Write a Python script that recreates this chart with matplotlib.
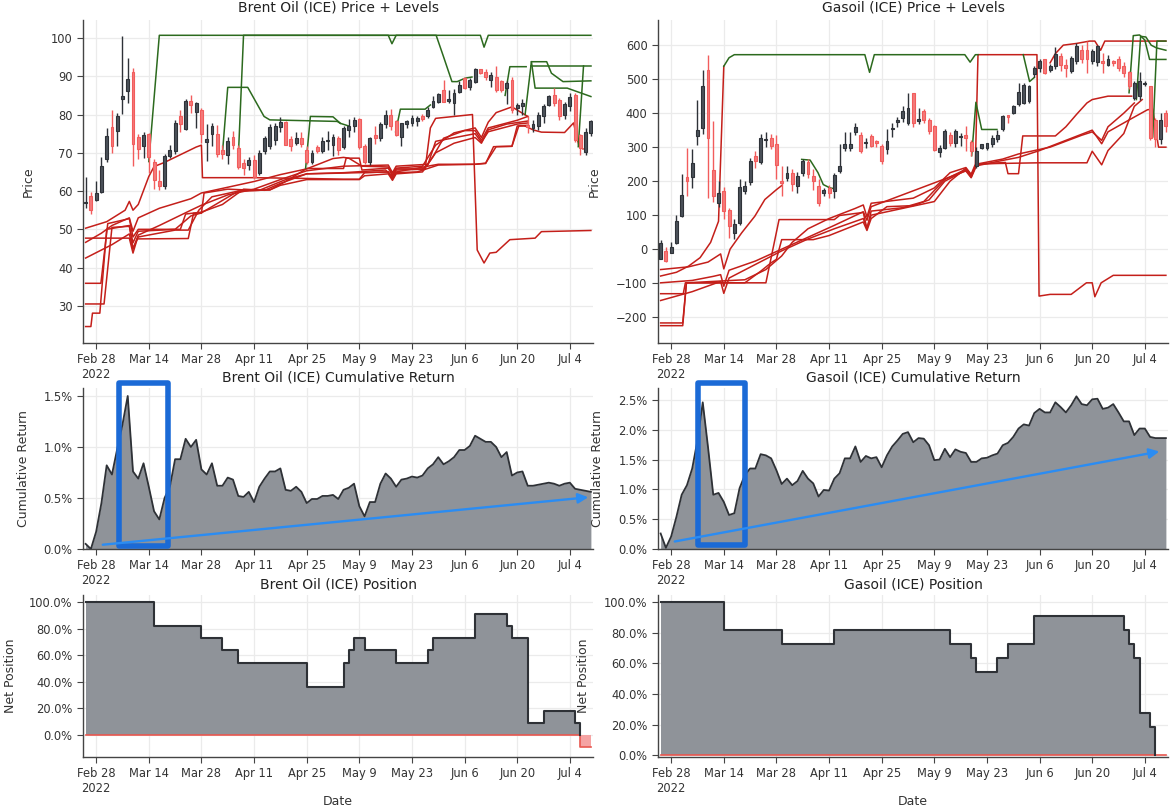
import numpy as np
import pandas as pd
import matplotlib
matplotlib.use("Agg")
import matplotlib.pyplot as plt
from matplotlib.patches import Rectangle, FancyArrowPatch
from matplotlib.ticker import PercentFormatter, FixedLocator

# ---------------------------------------------------------------------------
# Data
# ---------------------------------------------------------------------------
dates = pd.bdate_range("2022-02-24", "2022-07-08")
tick_dates = ["2022-02-28", "2022-03-14", "2022-03-28", "2022-04-11", "2022-04-25",
              "2022-05-09", "2022-05-23", "2022-06-06", "2022-06-20", "2022-07-04"]
tick_labels = ["Feb 28\n2022", "Mar 14", "Mar 28", "Apr 11", "Apr 25",
               "May 9", "May 23", "Jun 6", "Jun 20", "Jul 4"]

brent_open = [56.8, 58.7, 57.6, 59.8, 68.5, 76.8, 75.6, 84.1, 86.1, 91.2, 74.2, 71.8, 75.0, 67.6, 62.7, 61.4,
              69.2, 70.5, 79.6, 76.3, 83.5, 80.7, 81.3, 72.9, 75.0, 75.0, 70.8, 69.4, 74.2, 71.3, 67.3, 66.9,
              68.0, 64.7, 70.5, 71.7, 73.3, 76.8, 78.1, 73.5, 72.5, 73.8, 70.8, 67.6, 71.5, 70.5, 73.1, 72.0,
              73.8, 71.6, 76.0, 77.0, 78.8, 71.8, 67.7, 74.7, 73.8, 77.5, 79.9, 78.2, 74.2, 77.5, 77.7, 78.2,
              79.6, 79.5, 81.9, 83.4, 86.4, 83.6, 83.0, 86.0, 89.5, 87.3, 88.6, 91.8, 91.2, 89.0, 89.9, 88.8,
              86.9, 88.9, 81.6, 82.2, 77.3, 76.6, 76.9, 79.5, 82.5, 85.1, 83.8, 79.9, 82.1, 85.1, 74.7, 70.3, 75.1]
brent_high = [63.7, 59.7, 62.5, 69.0, 76.5, 81.3, 80.3, 100.6, 94.7, 92.2, 75.0, 75.4, 75.2, 68.5, 65.5, 69.8,
              72.1, 78.5, 81.2, 84.0, 85.0, 83.3, 81.8, 77.5, 77.9, 77.3, 72.0, 74.0, 75.6, 72.0, 68.4, 68.8,
              69.3, 70.7, 74.5, 77.5, 77.8, 79.4, 78.3, 74.5, 75.4, 75.5, 71.7, 70.7, 72.0, 74.0, 75.7, 75.0,
              74.5, 76.9, 78.8, 79.4, 79.0, 72.3, 74.2, 76.9, 78.0, 81.2, 81.4, 78.6, 77.8, 78.6, 79.8, 79.7,
              80.1, 82.0, 84.8, 85.6, 88.9, 86.4, 86.6, 88.7, 89.8, 89.5, 92.1, 92.0, 92.0, 91.0, 92.6, 89.0,
              88.8, 89.8, 82.9, 84.0, 79.5, 78.5, 80.6, 82.8, 85.1, 87.0, 84.3, 83.3, 85.5, 85.5, 75.0, 76.5, 78.5]
brent_low = [55.6, 54.1, 57.3, 59.4, 67.5, 70.0, 71.8, 80.1, 82.9, 66.5, 68.5, 68.6, 64.7, 60.6, 60.3, 60.5,
             68.6, 69.8, 75.5, 76.0, 80.5, 76.5, 72.5, 67.9, 71.7, 69.0, 68.5, 67.2, 71.0, 65.8, 64.2, 65.6,
             63.2, 64.3, 69.7, 71.0, 72.1, 75.5, 72.0, 70.6, 72.0, 71.5, 67.0, 67.0, 70.0, 70.0, 70.7, 69.2,
             69.5, 71.0, 74.0, 75.5, 71.0, 67.0, 66.8, 72.2, 73.0, 76.6, 76.0, 74.5, 71.9, 76.5, 76.9, 77.0,
             78.2, 79.0, 81.7, 83.0, 83.3, 83.0, 79.8, 85.5, 86.6, 86.5, 88.3, 90.5, 89.0, 87.3, 86.0, 85.9,
             82.7, 80.4, 80.0, 80.0, 75.1, 75.5, 76.0, 77.8, 82.2, 82.2, 78.7, 78.9, 80.9, 72.8, 69.5, 69.5, 74.5]
brent_close = [57.2, 55.1, 59.5, 66.5, 74.3, 71.7, 79.6, 84.8, 89.4, 72.4, 70.9, 74.6, 68.9, 62.9, 61.2, 69.2,
               70.7, 77.7, 77.5, 83.5, 82.5, 82.9, 75.0, 73.5, 77.0, 69.8, 69.8, 73.1, 72.0, 66.4, 66.1, 68.2,
               63.7, 70.0, 73.8, 76.8, 77.0, 78.1, 72.0, 71.7, 73.8, 72.3, 67.6, 70.0, 70.5, 73.0, 73.4, 74.0,
               70.8, 76.4, 76.9, 78.6, 71.6, 67.7, 73.8, 73.8, 77.5, 80.0, 77.0, 74.7, 77.7, 78.2, 79.0, 79.0,
               78.8, 81.2, 83.5, 85.4, 83.4, 84.1, 85.7, 87.7, 86.9, 88.9, 91.8, 90.9, 89.9, 90.3, 86.4, 86.4,
               88.2, 81.2, 82.5, 82.9, 76.8, 77.5, 79.9, 82.1, 84.9, 82.9, 79.5, 82.7, 84.7, 73.4, 71.2, 75.5, 78.2]

gasoil_open = [-28, -6, -11, 17, 99, 213, 213, 332, 357, 528, 232, 136, 171, 115, 48, 77,
               171, 197, 273, 256, 320, 327, 308, 200, 210, 223, 185, 223, 256, 215, 187, 164,
               180, 171, 229, 298, 298, 344, 337, 312, 334, 318, 303, 295, 352, 373, 386, 372,
               458, 378, 406, 381, 362, 285, 298, 337, 313, 330, 337, 315, 244, 298, 298, 308,
               323, 352, 395, 401, 426, 430, 435, 514, 533, 558, 528, 538, 568, 543, 524, 553,
               587, 585, 553, 550, 552, 543, 552, 560, 540, 521, 445, 450, 487, 479, 381, 323, 401]
gasoil_high = [27, 5, 22, 101, 221, 297, 295, 440, 527, 570, 377, 200, 183, 122, 88, 205,
               200, 267, 290, 340, 345, 340, 335, 245, 245, 235, 228, 265, 265, 235, 205, 180,
               190, 225, 310, 345, 345, 370, 345, 327, 340, 320, 310, 353, 370, 388, 421, 460,
               460, 416, 412, 385, 365, 305, 352, 345, 352, 342, 362, 320, 300, 310, 313, 335,
               350, 395, 396, 425, 490, 488, 483, 540, 560, 560, 545, 595, 578, 560, 568, 605,
               600, 612, 590, 600, 577, 570, 555, 568, 550, 525, 495, 520, 495, 480, 385, 400, 410]
gasoil_low = [-30, -38, -12, 14, 96, 155, 180, 307, 340, 150, 140, 123, 90, 33, 30, 70,
              163, 190, 240, 250, 300, 295, 205, 155, 200, 170, 165, 215, 210, 175, 128, 155,
              150, 150, 225, 290, 290, 335, 283, 298, 300, 300, 250, 280, 330, 360, 375, 365,
              360, 367, 370, 340, 290, 270, 294, 303, 300, 303, 290, 275, 240, 295, 292, 300,
              315, 348, 371, 398, 420, 428, 430, 505, 520, 515, 520, 530, 523, 505, 518, 545,
              548, 518, 545, 540, 519, 540, 540, 525, 505, 470, 440, 440, 480, 320, 300, 310, 345]
gasoil_close = [18, -35, 6, 82, 158, 200, 252, 350, 479, 327, 156, 164, 112, 68, 75, 183,
                185, 259, 259, 327, 325, 303, 249, 196, 224, 193, 215, 259, 220, 200, 136, 173,
                166, 217, 244, 308, 308, 360, 288, 316, 303, 313, 259, 318, 356, 381, 406, 414,
                370, 383, 381, 347, 293, 298, 347, 313, 347, 334, 327, 288, 288, 308, 311, 327,
                337, 391, 390, 421, 462, 484, 479, 533, 553, 519, 538, 573, 543, 533, 563, 597,
                560, 558, 582, 597, 548, 558, 548, 533, 519, 480, 489, 494, 490, 327, 323, 381, 362]

# level lines as (business days after Feb 28, price) vertices
brent_red_levels = [
    [(-2, 50.3), (2, 52), (5.5, 55), (6.3, 57.3), (7, 55), (8, 56.5), (10, 63.8), (11, 66.4), (13, 67.5),
     (16, 69.5), (19, 71.5), (20, 72), (20.2, 63.5), (30, 63.5), (40, 63.3), (47, 63.1), (50, 63.1),
     (51, 64.8), (55.5, 65), (56.3, 63.2), (57, 64.8), (61, 65), (65, 66.8), (72, 67), (74, 67.3),
     (76, 71.6), (79, 71.7), (80, 77), (82, 77.2)],
    [(-2, 47.7), (6.3, 47.7), (7, 43.8), (7.8, 47.5), (17.5, 47.6), (18.5, 54.2), (20, 54.2), (20.5, 59.5),
     (25, 60.5), (30, 60.2), (33, 60.3), (36, 62.5), (40, 65.9), (47, 65.9), (47.5, 68.6), (50, 68.6),
     (50.5, 65.5), (55.5, 66), (56.3, 64), (57, 65.8), (62, 65.8), (63, 66.8), (64.5, 73), (69, 74.2),
     (72, 75), (73.2, 72.8), (74.5, 75.5), (80, 77.5), (82, 77.8)],
    [(-2, 46.6), (1, 49), (3, 51), (6.3, 53), (7, 49.5), (8, 53), (12, 55.5), (18, 58), (20, 59.5),
     (25, 61), (30, 62.5), (35, 64.3), (40, 65.8), (45, 68.5), (47, 68.8), (48, 68.6), (50.5, 66.5),
     (55.5, 66.3), (56.3, 64.2), (57, 66), (62, 66.5), (64.5, 72), (68, 75.2), (72, 76.5), (73.2, 74),
     (74.5, 78), (76, 80.5), (79, 82), (82, 79.5)],
    [(-2, 42.5), (3, 46), (6.3, 48.8), (7, 44.8), (8, 48.5), (12, 51), (18, 55), (20, 56.3), (25, 59),
     (30, 60.5), (35, 63), (40, 65.3), (47, 66.5), (55.5, 66.8), (56.3, 64.8), (57, 66.5), (63, 67),
     (64.5, 70), (68, 72.5), (72, 74), (73.2, 72.5), (74.5, 76), (78, 77.5), (82, 78.3)],
    [(-2, 35.9), (0.9, 35.9), (2.2, 51.5), (6.3, 52.8), (7, 48), (8, 50), (16, 50), (17, 54), (20, 54.5),
     (24, 56.5), (28, 60.5), (32, 60.2), (35, 62), (40, 64.5), (47, 64.7), (55.5, 65), (56.3, 63.3),
     (57, 65), (63, 66.5), (65, 67), (72, 67), (74, 67.2), (75.5, 71.6), (79, 71.7), (80.3, 77), (82, 77)],
    [(-2, 30.5), (1.5, 30.5), (3, 50.5), (6.3, 50.8), (7, 46.5), (8, 49.5), (15, 50), (18, 53.5),
     (20, 54.3), (27, 60), (33, 60.3), (35, 61.5), (40, 63), (47, 63), (50, 63), (51, 64), (55.5, 64.5),
     (56.3, 62.8), (57, 64.5), (62, 65), (64, 69), (66, 73.8), (70, 75.8), (72, 75.8), (73.2, 73.3),
     (74.5, 76.5), (80, 78.5), (82, 79.5)],
    [(-2, 24.6), (-1, 24.6), (-0.7, 28.1), (0.7, 28.1), (2, 50), (6.3, 51), (7, 45), (8, 48), (15, 49.8),
     (17.5, 49.8), (19.5, 55), (22, 58.5), (27, 60), (31, 60.2), (36, 63), (40, 64.5), (47, 64.8),
     (55, 65.5), (56.3, 63.8), (57, 65.5), (62.5, 65.7), (63.5, 76.5), (64.5, 79), (71.5, 80),
     (72.4, 44.6), (73.7, 41.2), (74.8, 43.8), (76, 44), (78.6, 47.3), (83.4, 47.7), (84.6, 49.4),
     (94, 49.7)],
    [(81.5, 77), (83, 76), (84.6, 75.4), (89, 75.3), (90.7, 77.8), (91.7, 72), (92.5, 71)],
]
brent_green_levels = [
    [(10, 67.7), (12, 100.7), (55.5, 100.7), (56.2, 98.5), (57, 100.7), (73, 100.7), (73.7, 97.6),
     (74.5, 100.7), (94, 100.7)],
    [(27, 68.5), (28, 100.7), (64.6, 100.7), (66, 95.1), (67.6, 88.6), (68.6, 88.6), (70.1, 89.5),
     (71.4, 89.8)],
    [(24, 70), (25, 87.1), (28.8, 87.1), (31.9, 79.5), (33, 78.6), (45.8, 78.2), (46.4, 77.7), (48, 77)],
    [(39.8, 66), (40.7, 79.5), (45, 79.4), (46.4, 77.7)],
    [(56.9, 75.5), (57.8, 81.4), (62.5, 81.4), (63.5, 82.5)],
    [(77.7, 85), (78.6, 92.5), (81.7, 92.5)],
    [(81.5, 80), (82.7, 93.8), (85.6, 93.8), (86.5, 90.8), (88.7, 88.6), (94, 88.8)],
    [(82.7, 93.8), (83.4, 86.9), (89.5, 86.9), (94, 84.7)],
    [(82.7, 92.7), (94, 92.7)],
    [(91.6, 71.6), (92.6, 92.7)],
]

gasoil_red_levels = [
    [(-2, -60), (3.3, -52), (7, -38), (9.4, -14), (10, -58), (11.2, 0), (13.4, 48), (15.9, 97),
     (17.8, 146), (20, 175), (21, 187)],
    [(-2, -79), (1, -68), (3.3, -50), (5.5, -25), (7.5, 20), (9, 82), (10, 538)],
    [(-2, -99), (4, -92), (8, -80), (9.4, -75), (10, -109), (11, -62), (16, -35), (21, 0), (26, 35),
     (31, 70), (36.5, 110), (37.2, 85), (38, 125), (44, 160), (50, 195), (56, 230), (57, 210),
     (58, 245), (62, 258), (66, 270), (70, 290), (75, 320), (80, 350), (81.8, 310), (83, 345),
     (87, 380), (90.5, 410), (91.5, 412), (92.6, 300), (94, 300)],
    [(-2, -131), (2.3, -131), (2.7, -99), (18, -99), (20.5, 87), (31, 87), (32, 99), (36.5, 108),
     (37.2, 60), (38, 112), (44, 122), (48, 140), (52, 205), (56, 235), (57, 215), (58, 250), (62, 252),
     (70, 254), (79, 254), (80, 288), (81.8, 248), (83, 290), (86, 340), (88, 420), (89.5, 440)],
    [(-2, -151), (4, -125), (9.4, -95), (10, -130), (11, -85), (16, -45), (21, -5), (26, 30), (31, 60),
     (36.5, 90), (37.2, 62), (38, 100), (44, 120), (50, 140), (53, 200), (56, 238), (57, 218), (58, 250),
     (63, 265), (66, 280), (72, 300), (78, 335), (80, 345), (81.8, 320), (83, 360), (86, 400), (88, 430)],
    [(-2, -217), (2.2, -217), (2.9, -99), (14, -99), (17, -65), (19, -40), (20, -30), (21, 28), (27, 28),
     (30, 40), (36.5, 80), (37.2, 55), (38, 90), (41, 125), (46, 128), (49, 145), (52, 200), (56, 232),
     (57, 212), (58, 250), (63.5, 255), (64, 222), (66, 222), (66.8, 333), (73, 333), (75, 360),
     (77, 396), (79, 430), (80, 440), (83, 450), (87.5, 450)],
    [(-2, -225), (2.2, -225), (2.9, -99), (14, -90), (18, -60), (21, -20), (23, 20), (26, 60), (30, 90),
     (35, 120), (36.5, 130), (37.2, 95), (38, 135), (46, 150), (50, 180), (53, 225), (56, 240),
     (57, 220), (57.8, 250), (58.3, 572), (69.5, 572), (69.9, -138), (72, -133), (76, -133),
     (78.9, -99), (80, -99), (80.5, -140), (81.7, -99), (84, -77), (94, -77)],
    [(72, 548), (73, 575), (74.5, 600), (77, 605), (79.5, 612), (80.5, 612), (81.6, 585), (82.4, 612),
     (94, 612)],
]
gasoil_green_levels = [
    [(10, 538), (11, 563), (12, 572), (36.8, 572), (37.7, 520), (38.6, 572), (55.8, 572), (56.8, 550),
     (57.8, 572), (58.3, 572)],
    [(24.8, 264), (26.4, 262), (27.9, 225), (28.9, 190), (30.2, 180), (31, 178)],
    [(57.1, 275), (57.9, 432), (59, 352), (61.9, 352)],
    [(66.9, 572), (68.1, 493), (69, 505)],
    [(87, 460), (87.8, 628), (89, 630), (90, 615), (90.9, 558), (94, 558)],
    [(88.4, 440), (89.2, 626), (90.2, 624), (91.2, 600), (92.2, 592), (94, 585)],
    [(91.5, 330), (92.3, 612), (94, 612)],
]

# cumulative return, percent
brent_cumret = [0.05, 0.00, 0.17, 0.45, 0.82, 0.73, 0.98, 1.22, 1.50, 0.76, 0.69, 0.84, 0.61, 0.37, 0.29, 0.50,
                0.61, 0.88, 0.88, 1.08, 1.00, 1.07, 0.78, 0.73, 0.84, 0.62, 0.62, 0.70, 0.68, 0.52, 0.51, 0.56,
                0.46, 0.61, 0.69, 0.76, 0.76, 0.79, 0.58, 0.57, 0.61, 0.56, 0.45, 0.49, 0.49, 0.52, 0.52, 0.53,
                0.49, 0.58, 0.60, 0.64, 0.42, 0.32, 0.46, 0.46, 0.64, 0.74, 0.69, 0.61, 0.68, 0.69, 0.71, 0.70,
                0.72, 0.79, 0.83, 0.90, 0.83, 0.86, 0.90, 0.97, 0.97, 1.01, 1.11, 1.08, 1.05, 1.05, 1.00, 0.90,
                0.95, 0.72, 0.75, 0.76, 0.62, 0.62, 0.63, 0.64, 0.65, 0.64, 0.62, 0.64, 0.65, 0.59, 0.58, 0.57, 0.56]
gasoil_cumret = [0.26, 0.02, 0.21, 0.54, 0.91, 1.07, 1.35, 1.82, 2.46, 1.71, 0.91, 0.94, 0.79, 0.57, 0.60, 1.02,
                 1.24, 1.35, 1.35, 1.59, 1.57, 1.52, 1.32, 1.09, 1.18, 1.07, 1.14, 1.31, 1.18, 1.10, 0.88, 0.99,
                 0.98, 1.18, 1.27, 1.52, 1.52, 1.72, 1.46, 1.56, 1.52, 1.54, 1.37, 1.57, 1.72, 1.82, 1.93, 1.96,
                 1.79, 1.86, 1.85, 1.74, 1.49, 1.50, 1.68, 1.54, 1.67, 1.63, 1.61, 1.46, 1.46, 1.52, 1.53, 1.57,
                 1.60, 1.74, 1.78, 1.88, 2.02, 2.09, 2.07, 2.28, 2.35, 2.29, 2.29, 2.46, 2.38, 2.29, 2.41, 2.56,
                 2.43, 2.41, 2.51, 2.52, 2.35, 2.37, 2.43, 2.29, 2.14, 2.14, 1.91, 2.02, 2.02, 1.88, 1.86, 1.86, 1.86]

# net position, percent: changes (business days after Feb 28, new value)
brent_pos_day = [-2, 11, 20, 24, 27, 40, 47, 48, 49, 51, 57, 63, 64, 72, 78, 79, 82, 85, 91, 92]
brent_pos_val = [100, 81.8, 72.7, 63.6, 54.5, 36.4, 54.5, 63.6, 72.7, 63.6, 54.5, 63.6, 72.7, 90.9, 81.8,
                 72.7, 9.1, 18.2, 9.1, -9.1]
gasoil_pos_day = [-2, 10, 21, 31, 53, 57, 58, 62, 64, 69, 86, 87, 88, 89, 91, 92]
gasoil_pos_val = [100, 81.8, 72.7, 81.8, 72.7, 63.6, 54.5, 63.6, 72.7, 90.9, 81.8, 72.7, 63.6, 27.3, 18.2, 0]

# ---------------------------------------------------------------------------
# Style
# ---------------------------------------------------------------------------
plt.rcParams["font.family"] = ["DejaVu Sans"]
W, H = 1171, 810
INC_FILL, INC_EDGE = "#4b5159", "#2e3238"
DEC_FILL, DEC_EDGE = "#f47a7a", "#f25c5c"
RED_LVL, GREEN_LVL = "#c41f1a", "#2c6a1e"
AREA_FILL, AREA_LINE = "#8f9399", "#2e3136"
GRID = "#ebebeb"
AXCOL = "#444444"

feb28 = list(dates).index(pd.Timestamp("2022-02-28"))
x = np.arange(len(dates)) - feb28
tick_pos = [list(dates).index(pd.Timestamp(d)) - feb28 for d in tick_dates]


def make_ax(fig, left, top, right, bottom):
    ax = fig.add_axes([left / W, 1 - bottom / H, (right - left) / W, (bottom - top) / H])
    ax.set_xlim(-2.5, 94.4)
    ax.xaxis.set_major_locator(FixedLocator(tick_pos))
    ax.set_xticklabels(tick_labels)
    ax.grid(True, color=GRID, lw=0.9)
    ax.set_axisbelow(True)
    for s in ("top", "right"):
        ax.spines[s].set_visible(False)
    for s in ("left", "bottom"):
        ax.spines[s].set_color(AXCOL)
        ax.spines[s].set_linewidth(1.0)
    ax.tick_params(colors=AXCOL, labelcolor="#333333", labelsize=8.3, length=4, width=0.8)
    return ax


def draw_candles(ax, o, h, l, c):
    o, h, l, c = map(np.asarray, (o, h, l, c))
    up = c >= o
    for mask, fill, edge in ((up, INC_FILL, INC_EDGE), (~up, DEC_FILL, DEC_EDGE)):
        ax.vlines(x[mask], l[mask], h[mask], color=edge, lw=1.0, zorder=3)
        body = np.maximum(np.abs(c[mask] - o[mask]), 1e-6)
        ax.bar(x[mask], body, bottom=np.minimum(o[mask], c[mask]), width=0.55,
               color=fill, edgecolor=edge, linewidth=0.8, zorder=4)


def draw_levels(ax, levels, color):
    for line in levels:
        u, p = zip(*line)
        ax.plot(u, p, color=color, lw=1.1, zorder=2)


def daily_steps(days, vals):
    s = pd.Series(np.nan, index=x)
    for d, v in zip(days, vals):
        s[d] = v
    return s.ffill().to_numpy()


fig = plt.figure(figsize=(W / 100, H / 100), dpi=100)
fig.patch.set_facecolor("white")

cols = [
    dict(name="Brent Oil (ICE)", left=83, right=593, o=brent_open, h=brent_high, l=brent_low, c=brent_close,
         red=brent_red_levels, green=brent_green_levels, ylim=(20.3, 104.7), yticks=np.arange(30, 101, 10),
         cr=brent_cumret, crlim=(0, 1.578), crticks=[0, 0.5, 1.0, 1.5],
         pd_=brent_pos_day, pv=brent_pos_val, plim=(-16.5, 105.3)),
    dict(name="Gasoil (ICE)", left=658, right=1168, o=gasoil_open, h=gasoil_high, l=gasoil_low, c=gasoil_close,
         red=gasoil_red_levels, green=gasoil_green_levels, ylim=(-276, 674), yticks=np.arange(-200, 601, 100),
         cr=gasoil_cumret, crlim=(0, 2.70), crticks=[0, 0.5, 1.0, 1.5, 2.0, 2.5],
         pd_=gasoil_pos_day, pv=gasoil_pos_val, plim=(-1.2, 104.6)),
]

for k, col in enumerate(cols):
    lab_off = -0.094 if k == 0 else -0.112

    # price + levels
    ax = make_ax(fig, col["left"], 20, col["right"], 343)
    draw_levels(ax, col["red"], RED_LVL)
    draw_levels(ax, col["green"], GREEN_LVL)
    draw_candles(ax, col["o"], col["h"], col["l"], col["c"])
    ax.set_ylim(*col["ylim"])
    ax.set_yticks(col["yticks"])
    ax.set_title(f"{col['name']} Price + Levels", fontsize=10, pad=6, color="#222222")
    ax.set_ylabel("Price", fontsize=9, color="#333333")
    ax.yaxis.set_label_coords(lab_off, 0.5)

    # cumulative return
    ax = make_ax(fig, col["left"], 388, col["right"], 549)
    cr = np.asarray(col["cr"])
    ax.fill_between(x, 0, cr, color=AREA_FILL, lw=0, zorder=2)
    ax.plot(x, cr, color=AREA_LINE, lw=1.3, zorder=3)
    ax.set_ylim(*col["crlim"])
    ax.set_yticks(col["crticks"])
    ax.yaxis.set_major_formatter(PercentFormatter(100, decimals=1))
    ax.set_title(f"{col['name']} Cumulative Return", fontsize=10, pad=5, color="#222222")
    ax.set_ylabel("Cumulative Return", fontsize=9, color="#333333")
    ax.yaxis.set_label_coords(-0.104 if k == 0 else -0.106, 0.5)

    # net position
    ax = make_ax(fig, col["left"], 595, col["right"], 757)
    pos = daily_steps(col["pd_"], col["pv"])
    pos_up = np.maximum(pos, 0)
    pos_dn = np.minimum(pos, 0)
    ax.fill_between(x, 0, pos_up, step="post", color=AREA_FILL, lw=0, zorder=2)
    ax.fill_between(x, pos_dn, 0, step="post", color="#f5a3a3", lw=0, zorder=2)
    ax.step(x, pos_dn, where="post", color="#e8574f", lw=1.2, zorder=3)
    ax.step(x[pos > 0.0001].tolist() + [x[pos > 0.0001][-1] + 1],
            pos_up[pos > 0.0001].tolist() + [0], where="post", color=AREA_LINE, lw=1.5, zorder=4)
    ax.set_ylim(*col["plim"])
    ax.set_yticks([0, 20, 40, 60, 80, 100])
    ax.yaxis.set_major_formatter(PercentFormatter(100, decimals=1))
    ax.set_title(f"{col['name']} Position", fontsize=10, pad=5, color="#222222")
    ax.set_ylabel("Net Position", fontsize=9, color="#333333")
    ax.yaxis.set_label_coords(-0.129 if k == 0 else -0.133, 0.5)
    ax.set_xlabel("Date", fontsize=9, color="#333333")
    ax.xaxis.set_label_coords(0.5, -0.235)

# blue highlight boxes and trend arrows (figure pixels)
for (x0, y0, x1, y1) in [(119, 383, 168, 546), (698, 383, 745, 545)]:
    fig.add_artist(Rectangle((x0 / W, 1 - y1 / H), (x1 - x0) / W, (y1 - y0) / H,
                             transform=fig.transFigure, fill=False, edgecolor="#1b6ad6",
                             linewidth=4.0, joinstyle="round", zorder=10))
for (xa, ya, xb, yb) in [(100, 545, 591, 497), (672, 542, 1162, 451)]:
    fig.add_artist(FancyArrowPatch((xa / W, 1 - ya / H), (xb / W, 1 - yb / H),
                                   transform=fig.transFigure, arrowstyle="-|>", mutation_scale=15,
                                   color="#2b8cf2", linewidth=1.7, zorder=10))

fig.savefig("out.png", dpi=100, facecolor="white")
